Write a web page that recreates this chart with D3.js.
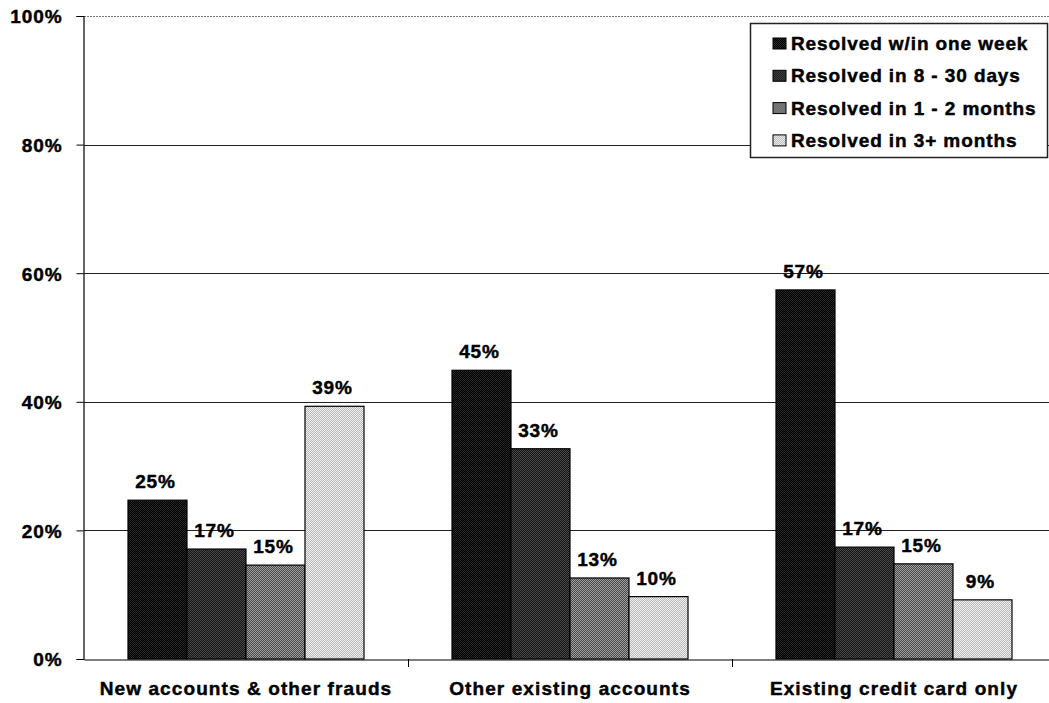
<!DOCTYPE html>
<html>
<head>
<meta charset="utf-8">
<script src="https://cdn.jsdelivr.net/npm/d3@7"></script>
<style>
  html, body { margin: 0; padding: 0; background: #fff; }
  svg { display: block; }
  text { font-family: "Liberation Sans", Arial, sans-serif; font-weight: bold; fill: #000;
         stroke: #000; stroke-width: 0.45px; }
</style>
</head>
<body>
<svg id="chart" width="1049" height="703"></svg>
<script>
// Fraud resolution time by type of fraud (share of victims)
const categories = ["New accounts & other frauds", "Other existing accounts", "Existing credit card only"];
const seriesNames = ["Resolved w/in one week", "Resolved in 8 - 30 days", "Resolved in 1 - 2 months", "Resolved in 3+ months"];
const weekValues   = [0.247, 0.449, 0.574];
const daysValues   = [0.171, 0.327, 0.174];
const monthsValues = [0.146, 0.126, 0.148];
const longValues   = [0.393, 0.097, 0.092];
const yTicks = [0, 0.2, 0.4, 0.6, 0.8, 1.0];

const seriesValues = [weekValues, daysValues, monthsValues, longValues];

const FONT = "19px";
const SPACING = "0.9px";

const svg = d3.select("#chart");
const W = 1049, H = 703;
const margin = { left: 84, right: -7, top: 16, bottom: 44 };
const plotRight = W - margin.right;
const plotBottom = H - margin.bottom;

// Dithered fills, one per series
const defs = svg.append("defs");
const fills = [
  { a: "#000", b: "#262626" },
  { a: "#141414", b: "#4a4a4a" },
  { a: "#484848", b: "#a0a0a0" },
  { a: "#b8b8b8", b: "#f0f0f0" }
];
fills.forEach((f, i) => {
  const p = defs.append("pattern")
    .attr("id", "fill" + i)
    .attr("patternUnits", "userSpaceOnUse")
    .attr("width", 2).attr("height", 2);
  p.append("rect").attr("width", 2).attr("height", 2).attr("fill", f.a);
  p.append("rect").attr("width", 1).attr("height", 1).attr("fill", f.b);
  p.append("rect").attr("x", 1).attr("y", 1).attr("width", 1).attr("height", 1).attr("fill", f.b);
});

const y = d3.scaleLinear().domain([0, 1]).range([plotBottom, margin.top]);
const x0 = d3.scaleBand().domain(categories).range([margin.left, plotRight]).padding(0);
const x1 = d3.scaleBand().domain(seriesNames)
  .range([44, x0.bandwidth() - 44]).padding(0);

// Gridlines
svg.append("g").selectAll("line")
  .data(yTicks.filter(d => d > 0))
  .join("line")
  .attr("x1", margin.left).attr("x2", W)
  .attr("y1", d => Math.round(y(d)) + 0.5).attr("y2", d => Math.round(y(d)) + 0.5)
  .attr("stroke", d => d === 1 ? "#777" : "#222")
  .attr("stroke-width", 1)
  .attr("stroke-dasharray", d => d === 1 ? "2,1" : null);

// Y axis
const yAxis = d3.axisLeft(y).tickValues(yTicks)
  .tickFormat(d3.format(".0%")).tickSize(7).tickPadding(14);
const gy = svg.append("g")
  .attr("transform", `translate(${margin.left - 0.5},0)`)
  .call(yAxis);
gy.select(".domain").attr("stroke", "#000").attr("stroke-width", 1.2);
gy.selectAll(".tick line").attr("stroke", "#000");
gy.selectAll(".tick text")
  .style("font-size", FONT).style("letter-spacing", SPACING)
  .attr("dy", "0.36em");

// Bars
const groups = svg.append("g").selectAll("g")
  .data(categories)
  .join("g")
  .attr("transform", d => `translate(${x0(d)},0)`);

groups.selectAll("rect")
  .data((c, ci) => seriesNames.map((s, si) => ({ s, si, v: seriesValues[si][ci] })))
  .join("rect")
  .attr("x", d => x1(d.s))
  .attr("y", d => y(d.v))
  .attr("width", x1.bandwidth())
  .attr("height", d => plotBottom - y(d.v))
  .attr("fill", d => `url(#fill${d.si})`)
  .attr("stroke", "#000")
  .attr("stroke-width", 1.2);

// Value labels
groups.selectAll("text.val")
  .data((c, ci) => seriesNames.map((s, si) => ({ s, si, v: seriesValues[si][ci] })))
  .join("text")
  .attr("class", "val")
  .attr("x", d => x1(d.s) + x1.bandwidth() / 2 - 2)
  .attr("y", d => y(d.v) - 12)
  .attr("text-anchor", "middle")
  .style("font-size", FONT).style("letter-spacing", SPACING)
  .text(d => d3.format(".0%")(d.v));

// X axis
const xAxis = d3.axisBottom(x0).tickSize(0).tickPadding(22);
const gx = svg.append("g")
  .attr("transform", `translate(0,${plotBottom + 0.5})`)
  .call(xAxis);
gx.select(".domain").attr("stroke", "#000").attr("stroke-width", 1.2);
gx.selectAll(".tick text")
  .style("font-size", FONT).style("letter-spacing", "1.1px");

// Category separators on the x axis
svg.append("g").selectAll("line")
  .data(categories.slice(1))
  .join("line")
  .attr("x1", d => Math.round(x0(d)) + 0.5).attr("x2", d => Math.round(x0(d)) + 0.5)
  .attr("y1", plotBottom).attr("y2", plotBottom + 8)
  .attr("stroke", "#000");

// Legend
const legend = svg.append("g").attr("transform", "translate(750,23)");
legend.append("rect")
  .attr("x", 0.5).attr("y", 0.5)
  .attr("width", 297).attr("height", 134)
  .attr("fill", "#fff").attr("stroke", "#222").attr("stroke-width", 1.5);
const items = legend.selectAll("g.item")
  .data(seriesNames)
  .join("g")
  .attr("class", "item")
  .attr("transform", (d, i) => `translate(0,${20 + i * 32.3})`);
items.append("rect")
  .attr("x", 23).attr("y", -5)
  .attr("width", 13).attr("height", 11)
  .attr("fill", (d, i) => `url(#fill${i})`)
  .attr("stroke", "#000").attr("stroke-width", 1);
items.append("text")
  .attr("x", 41).attr("y", 7)
  .style("font-size", FONT).style("letter-spacing", SPACING)
  .text(d => d);
</script>
</body>
</html>
